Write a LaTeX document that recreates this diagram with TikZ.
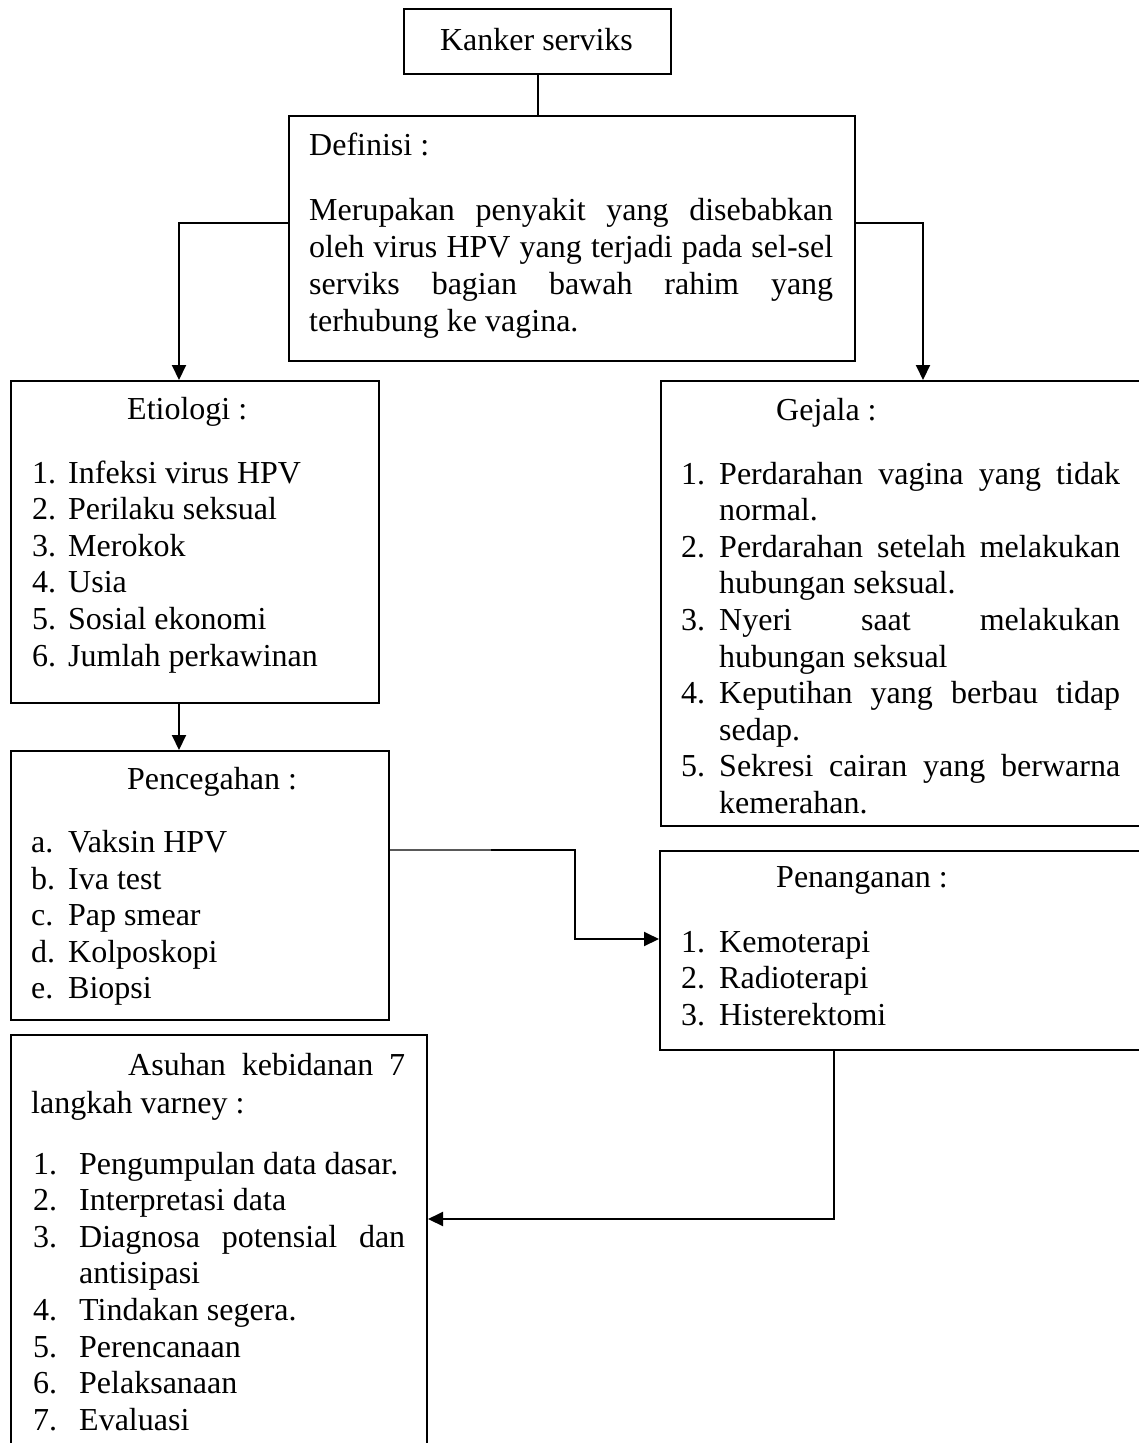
\documentclass[tikz,border=0pt]{standalone}
\usepackage{fontspec}
\setmainfont{Liberation Serif}
\usetikzlibrary{arrows.meta}
\tikzset{
  box/.style={draw=black, line width=2pt, inner sep=0pt, anchor=north west, rectangle},
  txt/.style={inner sep=0pt, anchor=base west, font=\fontsize{32pt}{37pt}\selectfont},
  conn/.style={line width=2pt, -{Triangle[length=15pt,width=14pt]}},
  plainconn/.style={line width=2pt},
  faintconn/.style={line width=1.4pt, draw=black!65}
}
\newcommand{\jl}[2]{\makebox[#1pt][s]{#2}}
\begin{document}
\begin{tikzpicture}[x=1pt,y=-1pt]
\useasboundingbox (0,0) rectangle (1139,1443);
\clip (0,0) rectangle (1139,1443);
\fill[white] (0,0) rectangle (1139,1443);

% boxes
\node[box, minimum width=267pt, minimum height=65pt] (kan) at (403,8) {};
\node[box, minimum width=566pt, minimum height=245pt] (def) at (288,115) {};
\node[box, minimum width=368pt, minimum height=322pt] (eti) at (10,380) {};
\node[box, minimum width=490pt, minimum height=445pt] (gej) at (660,380) {};
\node[box, minimum width=378pt, minimum height=269pt] (pen) at (10,750) {};
\node[box, minimum width=490pt, minimum height=199pt] (pan) at (659,850) {};
\node[box, minimum width=416pt, minimum height=430pt] (asu) at (10,1034) {};

% Kanker serviks
\node[txt, anchor=base] (kant) at (536.5,50) {Kanker serviks};

% Definisi
\node[txt] (deft) at (309,155) {Definisi :};
\node[txt] (def1) at (309,220) {\jl{524}{Merupakan penyakit yang disebabkan}};
\node[txt] (def2) at (309,257) {\jl{524}{oleh virus HPV yang terjadi pada sel-sel}};
\node[txt] (def3) at (309,294) {\jl{524}{serviks bagian bawah rahim yang}};
\node[txt] (def4) at (309,331) {terhubung ke vagina.};

% Etiologi
\node[txt] (etit) at (127,419) {Etiologi :};
\node[txt] (etn1) at (32,483) {1.};   \node[txt] (eti1) at (68,483) {Infeksi virus HPV};
\node[txt] (etn2) at (32,519.6) {2.}; \node[txt] (eti2) at (68,519.6) {Perilaku seksual};
\node[txt] (etn3) at (32,556.2) {3.}; \node[txt] (eti3) at (68,556.2) {Merokok};
\node[txt] (etn4) at (32,592.8) {4.}; \node[txt] (eti4) at (68,592.8) {Usia};
\node[txt] (etn5) at (32,629.4) {5.}; \node[txt] (eti5) at (68,629.4) {Sosial ekonomi};
\node[txt] (etn6) at (32,666) {6.};   \node[txt] (eti6) at (68,666) {Jumlah perkawinan};

% Gejala
\node[txt] (gejt) at (776,420) {Gejala :};
\node[txt] (gjn1) at (681,484) {1.};   \node[txt] (gj1a) at (719,484) {\jl{401}{Perdarahan vagina yang tidak}};
\node[txt] (gj1b) at (719,520.6) {normal.};
\node[txt] (gjn2) at (681,557.2) {2.}; \node[txt] (gj2a) at (719,557.2) {\jl{401}{Perdarahan setelah melakukan}};
\node[txt] (gj2b) at (719,593.8) {hubungan seksual.};
\node[txt] (gjn3) at (681,630.4) {3.}; \node[txt] (gj3a) at (719,630.4) {\jl{401}{Nyeri saat melakukan}};
\node[txt] (gj3b) at (719,667) {hubungan seksual};
\node[txt] (gjn4) at (681,703.6) {4.}; \node[txt] (gj4a) at (719,703.6) {\jl{401}{Keputihan yang berbau tidap}};
\node[txt] (gj4b) at (719,740.2) {sedap.};
\node[txt] (gjn5) at (681,776.8) {5.}; \node[txt] (gj5a) at (719,776.8) {\jl{401}{Sekresi cairan yang berwarna}};
\node[txt] (gj5b) at (719,813.4) {kemerahan.};

% Pencegahan
\node[txt] (pent) at (127,789) {Pencegahan :};
\node[txt] (pnn1) at (31,852.5) {a.}; \node[txt] (pn1) at (68,852.5) {Vaksin HPV};
\node[txt] (pnn2) at (31,889.1) {b.}; \node[txt] (pn2) at (68,889.1) {Iva test};
\node[txt] (pnn3) at (31,925.7) {c.}; \node[txt] (pn3) at (68,925.7) {Pap smear};
\node[txt] (pnn4) at (31,962.3) {d.}; \node[txt] (pn4) at (68,962.3) {Kolposkopi};
\node[txt] (pnn5) at (31,998.9) {e.}; \node[txt] (pn5) at (68,998.9) {Biopsi};

% Penanganan
\node[txt] (pant) at (776,887) {Penanganan :};
\node[txt] (pan1n) at (681,952) {1.};    \node[txt] (pan1) at (719,952) {Kemoterapi};
\node[txt] (pan2n) at (681,988.6) {2.};  \node[txt] (pan2) at (719,988.6) {Radioterapi};
\node[txt] (pan3n) at (681,1025.2) {3.}; \node[txt] (pan3) at (719,1025.2) {Histerektomi};

% Asuhan
\node[txt] (asut1) at (128,1075) {\jl{277}{Asuhan kebidanan 7}};
\node[txt] (asut2) at (31,1113) {langkah varney :};
\node[txt] (asn1) at (33,1174) {1.};     \node[txt] (as1) at (79,1174) {Pengumpulan data dasar.};
\node[txt] (asn2) at (33,1210.6) {2.};   \node[txt] (as2) at (79,1210.6) {Interpretasi data};
\node[txt] (asn3) at (33,1247.2) {3.};   \node[txt] (as3a) at (79,1247.2) {\jl{326}{Diagnosa potensial dan}};
\node[txt] (as3b) at (79,1283.8) {antisipasi};
\node[txt] (asn4) at (33,1320.4) {4.};   \node[txt] (as4) at (79,1320.4) {Tindakan segera.};
\node[txt] (asn5) at (33,1357) {5.};     \node[txt] (as5) at (79,1357) {Perencanaan};
\node[txt] (asn6) at (33,1393.6) {6.};   \node[txt] (as6) at (79,1393.6) {Pelaksanaan};
\node[txt] (asn7) at (33,1430.2) {7.};   \node[txt] (as7) at (79,1430.2) {Evaluasi};

% connectors
\draw[plainconn] (kan.south -| 538,0) -- (def.north -| 538,0);
\draw[conn] (def.west |- 0,223) -| (eti.north -| 179,0);
\draw[conn] (def.east |- 0,223) -| (gej.north -| 923,0);
\draw[conn] (eti.south -| 179,0) -- (pen.north -| 179,0);
\coordinate (pjoin) at (491,850);
\draw[faintconn] (pen.east |- pjoin) -- (pjoin);
\draw[plainconn, -{Triangle[length=15pt,width=14pt]}] (pjoin) -| (575,939) -- (pan.west |- 0,939);
\draw[conn] (pan.south -| 834,0) |- (asu.east |- 0,1219);
\end{tikzpicture}
\end{document}
